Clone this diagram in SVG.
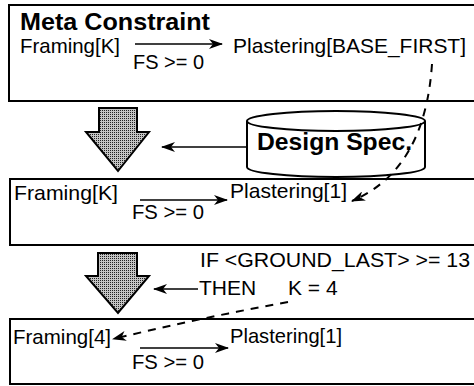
<svg xmlns="http://www.w3.org/2000/svg" width="474" height="386" viewBox="0 0 474 386">
<defs>
<pattern id="dither" width="2" height="2" patternUnits="userSpaceOnUse">
<rect width="2" height="2" fill="#c4c4c4"/>
<rect width="1" height="1" fill="#222"/>
</pattern>
<marker id="ah" viewBox="0 0 14 10" refX="13" refY="5" markerWidth="14" markerHeight="10" markerUnits="userSpaceOnUse" orient="auto">
<path d="M0,0 L14,5 L0,10 L4,5 Z" fill="#000"/>
</marker>
<style>
.box{fill:#fff;stroke:#000;stroke-width:2}
.t{font-family:"Liberation Sans",Arial,Helvetica,sans-serif;font-size:21px;fill:#000}
.b{font-family:"Liberation Sans",Arial,Helvetica,sans-serif;font-size:24px;font-weight:bold;fill:#000}
.ln{fill:none;stroke:#000;stroke-width:1.6}
.dash{fill:none;stroke:#000;stroke-width:2;stroke-dasharray:8 7}
.big{fill:url(#dither);stroke:#000;stroke-width:2;stroke-linejoin:miter}
</style>
</defs>
<g id="meta">
<rect class="box" x="9" y="5" width="470" height="96"/>
<text class="b" x="20" y="30" textLength="190" lengthAdjust="spacingAndGlyphs">Meta Constraint</text>
<text class="t" x="20" y="53" textLength="100" lengthAdjust="spacingAndGlyphs">Framing[K]</text>
<text class="t" x="233" y="53" textLength="233" lengthAdjust="spacingAndGlyphs">Plastering[BASE_FIRST]</text>
<text class="t" x="133" y="69" textLength="71" lengthAdjust="spacingAndGlyphs">FS &gt;= 0</text>
</g>
<g id="step1">
<rect class="box" x="10" y="179" width="470" height="66"/>
<text class="t" x="14" y="200" textLength="104" lengthAdjust="spacingAndGlyphs">Framing[K]</text>
<text class="t" x="230" y="198" textLength="117" lengthAdjust="spacingAndGlyphs">Plastering[1]</text>
<text class="t" x="132" y="219" textLength="72" lengthAdjust="spacingAndGlyphs">FS &gt;= 0</text>
</g>
<g id="step2">
<rect class="box" x="10" y="319" width="470" height="65"/>
<text class="t" x="13" y="344" textLength="98" lengthAdjust="spacingAndGlyphs">Framing[4]</text>
<text class="t" x="230" y="343" textLength="112" lengthAdjust="spacingAndGlyphs">Plastering[1]</text>
<text class="t" x="132" y="369" textLength="72" lengthAdjust="spacingAndGlyphs">FS &gt;= 0</text>
</g>
<g id="spec">
<path d="M247,121 L247,167 A89,10 0 0 0 425,167 L425,121" fill="#fff" stroke="#000" stroke-width="2"/>
<ellipse cx="336" cy="121" rx="89" ry="10" fill="#fff" stroke="#000" stroke-width="2"/>
<text class="b" x="257" y="150" textLength="155" lengthAdjust="spacingAndGlyphs">Design Spec.</text>
</g>
<g id="arrow1">
<path class="big" d="M99,108 L137,108 L137,132 L149,132 L118,171 L86,132 L99,132 Z"/>
</g>
<g id="arrow2">
<path class="big" d="M98,253 L137,253 L137,276 L149,276 L118,313 L86,276 L98,276 Z"/>
</g>
<g id="rule">
<text class="t" x="200" y="267" textLength="270" lengthAdjust="spacingAndGlyphs">IF &lt;GROUND_LAST&gt; &gt;= 13</text>
<text class="t" x="199" y="295">THEN</text>
<text class="t" x="288" y="295">K = 4</text>
</g>
<g id="connectors">
<line class="ln" x1="135" y1="44" x2="222" y2="44" marker-end="url(#ah)"/>
<line class="ln" x1="140" y1="200" x2="227" y2="200" marker-end="url(#ah)"/>
<line class="ln" x1="140" y1="348" x2="228" y2="348" marker-end="url(#ah)"/>
<line class="ln" x1="247" y1="147" x2="162" y2="147" marker-end="url(#ah)"/>
<line class="ln" x1="198" y1="289" x2="154" y2="289" marker-end="url(#ah)"/>
<path class="dash" d="M432,64 Q425,170 352,201" marker-end="url(#ah)"/>
<path class="dash" d="M288,302 Q200,318 113,339" marker-end="url(#ah)"/>
</g>
</svg>
